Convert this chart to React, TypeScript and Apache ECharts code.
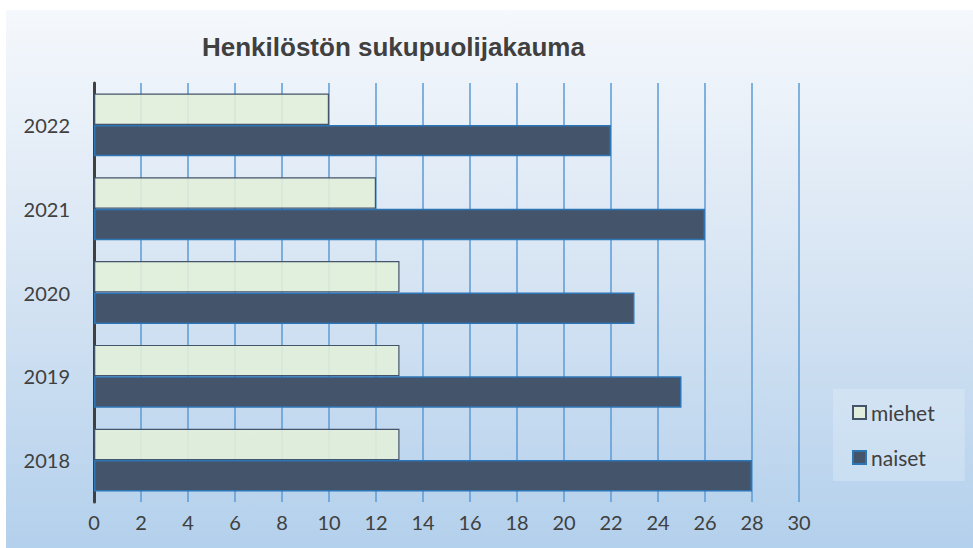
import React, { useEffect, useRef } from "react";
import * as echarts from "echarts";

const title = "Henkilöstön sukupuolijakauma";
const years = ["2018", "2019", "2020", "2021", "2022"];
const miehet = [13, 13, 13, 12, 10];
const naiset = [28, 25, 23, 26, 22];
const xTicks = { min: 0, max: 30, interval: 2 };

export default function App() {
  const ref = useRef<HTMLDivElement>(null);
  useEffect(() => {
    const chart = echarts.init(ref.current!, null, { renderer: "svg" });
    const font = "Lato, 'Open Sans', sans-serif";
    chart.setOption({
      animation: false,
      backgroundColor: "#ffffff",
      graphic: [
        {
          type: "rect",
          z: -100,
          silent: true,
          shape: { x: 6, y: 10, width: 967, height: 538 },
          style: {
            fill: new echarts.graphic.LinearGradient(0, 0, 0, 1, [
              { offset: 0, color: "#f5f8fc" },
              { offset: 0.5, color: "#d6e4f3" },
              { offset: 1, color: "#b3d0ec" },
            ]),
          },
        },
      ],
      title: {
        text: title,
        left: 197,
        top: 29,
        textStyle: {
          fontFamily: "'Liberation Sans', Arial, sans-serif",
          fontWeight: "bold",
          fontSize: 26,
          color: "#404040",
        },
      },
      legend: {
        data: ["miehet", "naiset"],
        orient: "vertical",
        left: 833,
        top: 389,
        width: 125,
        height: 94,
        padding: [13, 30, 13, 19],
        itemGap: 24,
        icon: "rect",
        itemWidth: 13,
        itemHeight: 13,
        backgroundColor: "rgba(230,240,250,0.35)",
        textStyle: { fontFamily: font, fontSize: 21, color: "#404040" },
      },
      grid: { left: 94, right: 174, top: 83, bottom: 46 },
      xAxis: {
        type: "value",
        min: xTicks.min,
        max: xTicks.max,
        interval: xTicks.interval,
        axisLine: { show: false },
        axisTick: { show: false },
        splitLine: { show: true, lineStyle: { color: "#5b9bd5", width: 1.5 } },
        axisLabel: { fontFamily: font, fontSize: 20, color: "#404040", margin: 10 },
      },
      yAxis: {
        type: "category",
        data: years,
        axisLine: { show: true, lineStyle: { color: "#404040", width: 3 } },
        axisTick: { show: false },
        axisLabel: { fontFamily: font, fontSize: 20, color: "#404040", margin: 24 },
      },
      series: [
        {
          name: "miehet",
          type: "bar",
          data: miehet,
          barGap: "0%",
          barCategoryGap: "25%",
          itemStyle: { color: "rgba(226,239,218,0.9)", borderColor: "#44546a", borderWidth: 1.2 },
        },
        {
          name: "naiset",
          type: "bar",
          data: naiset,
          barGap: "0%",
          barCategoryGap: "25%",
          itemStyle: { color: "#44546a", borderColor: "#2e75b6", borderWidth: 1.5 },
        },
      ],
    });
    return () => chart.dispose();
  }, []);
  return (
    <div
      ref={ref}
      style={{ position: "fixed", left: 0, top: 0, width: 973, height: 548 }}
    />
  );
}
